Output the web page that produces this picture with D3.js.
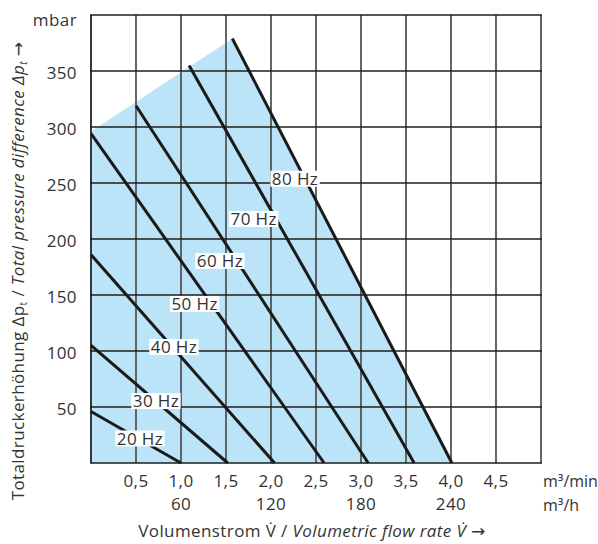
<!DOCTYPE html>
<html>
<head>
<meta charset="utf-8">
<script src="https://cdn.jsdelivr.net/npm/d3@7"></script>
<style>
  html, body { margin: 0; padding: 0; background: #fff; }
  svg { display: block; }
  text { font-family: "Open Sans", "DejaVu Sans", sans-serif; fill: #333; letter-spacing: 0.4px; }
</style>
</head>
<body>
<svg id="chart" width="598" height="544"></svg>
<script>
// ---- Data ----
const freqLabels = ["20 Hz", "30 Hz", "40 Hz", "50 Hz", "60 Hz", "70 Hz", "80 Hz"];
const lineStartQ = [0, 0, 0, 0, 0.5, 1.09, 1.57];
const lineStartP = [46, 105, 186, 294, 319, 355, 379];
const lineEndQ   = [1.0, 1.52, 2.04, 2.59, 3.08, 3.59, 4.01];
const lineEndP   = [0, 0, 0, 0, 0, 0, 0];
const labelQ = [0.544, 0.722, 0.922, 1.152, 1.433, 1.808, 2.267];
const labelP = [21.9, 55.3, 103.6, 142.0, 180.4, 217.9, 253.8];
const areaQ = [0, 0, 1.57, 4.01];
const areaP = [0, 296, 379, 0];
const xTicks = [0.5, 1.0, 1.5, 2.0, 2.5, 3.0, 3.5, 4.0, 4.5];
const xTickLabels = ["0,5", "1,0", "1,5", "2,0", "2,5", "3,0", "3,5", "4,0", "4,5"];
const hTicks = [60, 120, 180, 240];
const hTickLabels = ["60", "120", "180", "240"];
const yTicks = [50, 100, 150, 200, 250, 300, 350];
const yTickLabels = ["50", "100", "150", "200", "250", "300", "350"];

// ---- Layout ----
const svg = d3.select("#chart");
const x = d3.scaleLinear().domain([0, 5]).range([91, 541]);
const y = d3.scaleLinear().domain([0, 400]).range([463, 15]);
const FS = 17;

// Area
svg.append("path")
  .attr("d", d3.line().x((d, i) => x(areaQ[i])).y((d, i) => y(areaP[i]))(areaQ) + "Z")
  .attr("fill", "#bbe4f8");

// Vertical grid
svg.append("g").selectAll("line").data([0, ...xTicks, 5]).join("line")
  .attr("x1", d => x(d)).attr("x2", d => x(d))
  .attr("y1", y(0)).attr("y2", y(400))
  .attr("stroke", d => (d === 0 ? "#222" : "#555"))
  .attr("stroke-width", 1.8);

// Horizontal grid
svg.append("g").selectAll("line").data([0, ...yTicks, 400]).join("line")
  .attr("x1", x(0) - 0.9).attr("x2", x(5) + 0.9)
  .attr("y1", d => y(d)).attr("y2", d => y(d))
  .attr("stroke", "#1e1e1e")
  .attr("stroke-width", 1.6);

// Frequency lines
svg.append("g").selectAll("line").data(freqLabels).join("line")
  .attr("x1", (d, i) => x(lineStartQ[i])).attr("y1", (d, i) => y(lineStartP[i]))
  .attr("x2", (d, i) => x(lineEndQ[i])).attr("y2", (d, i) => y(lineEndP[i]))
  .attr("stroke", "#1a1a1a")
  .attr("stroke-width", 3);

// Labels with white boxes
const lg = svg.append("g");
freqLabels.forEach((lab, i) => {
  const g = lg.append("g");
  const t = g.append("text")
    .attr("x", x(labelQ[i])).attr("y", y(labelP[i]))
    .attr("dy", "0.36em")
    .attr("text-anchor", "middle")
    .attr("font-size", FS)
    .text(lab);
  const bb = t.node().getBBox();
  g.insert("rect", "text")
    .attr("x", bb.x - 1.5).attr("y", y(labelP[i]) - 8)
    .attr("width", bb.width + 3).attr("height", 16)
    .attr("fill", "#fff");
});

// Y tick labels
svg.append("g").selectAll("text").data(yTicks).join("text")
  .attr("x", 77).attr("y", d => y(d) + 2)
  .attr("dy", "0.36em")
  .attr("text-anchor", "end")
  .attr("font-size", FS)
  .text((d, i) => yTickLabels[i]);

svg.append("text").attr("x", 77).attr("y", 26)
  .attr("text-anchor", "end").attr("font-size", FS).text("mbar");

// X tick labels
svg.append("g").selectAll("text").data(xTicks).join("text")
  .attr("x", d => x(d)).attr("y", 487)
  .attr("text-anchor", "middle").attr("font-size", FS)
  .text((d, i) => xTickLabels[i]);

svg.append("g").selectAll("text").data(hTicks).join("text")
  .attr("x", d => x(d / 60)).attr("y", 510)
  .attr("text-anchor", "middle").attr("font-size", FS)
  .text((d, i) => hTickLabels[i]);

svg.append("text").attr("x", 543).attr("y", 487).attr("font-size", 16)
  .style("letter-spacing", "0px").text("m³/min");
svg.append("text").attr("x", 543).attr("y", 511).attr("font-size", 16)
  .style("letter-spacing", "0px").text("m³/h");

// X title
const xt = svg.append("text").attr("x", 312).attr("y", 537)
  .attr("text-anchor", "middle").attr("font-size", FS);
xt.append("tspan").text("Volumenstrom V\u0307 / ");
xt.append("tspan").attr("font-style", "italic").text("Volumetric flow rate V\u0307 →");

// Y title
const yt = svg.append("text")
  .attr("transform", "translate(23.5,271) rotate(-90)")
  .attr("text-anchor", "middle").attr("font-size", FS);
yt.append("tspan").text("Totaldruckerhöhung Δp");
yt.append("tspan").attr("font-size", 10).attr("dy", 3).text("t");
yt.append("tspan").attr("dy", -3).text(" / ");
yt.append("tspan").attr("font-style", "italic").text("Total pressure difference Δp");
yt.append("tspan").attr("font-style", "italic").attr("font-size", 10).attr("dy", 3).text("t");
yt.append("tspan").attr("dy", -3).text(" →");
</script>
</body>
</html>
